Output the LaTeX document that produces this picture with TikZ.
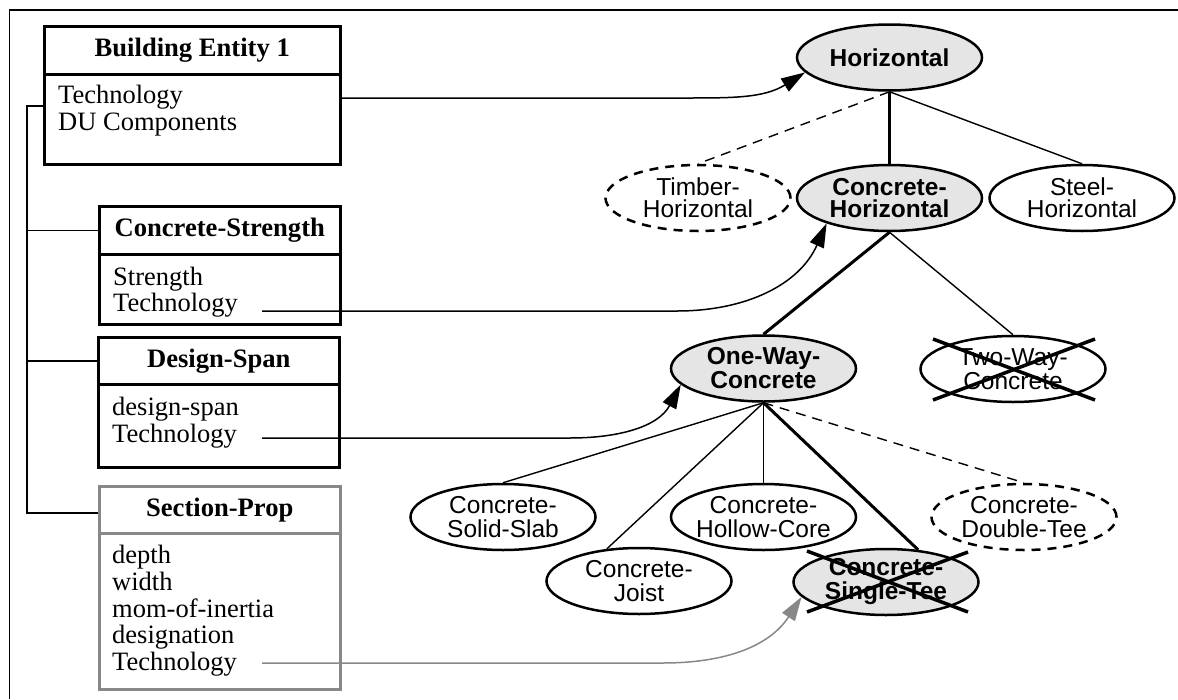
\documentclass[tikz,border=0pt]{standalone}
\usepackage{fontspec}
\setmainfont{Liberation Serif}
\newfontfamily\sansf{Liberation Sans}
\usetikzlibrary{shapes.geometric,arrows.meta,calc}
\definecolor{nodefill}{HTML}{E5E5E5}
\definecolor{boxgray}{HTML}{888888}
\begin{document}
\begin{tikzpicture}[x=1pt,y=-1pt,
  ellbase/.style={ellipse, draw, line width=2.5pt, minimum width=185pt, minimum height=66pt,
    inner sep=-14pt, align=center},
  ellA/.style={ellbase, font=\sansf\fontsize{24.5}{22}\selectfont},
  ellB/.style={ellbase, font=\sansf\fontsize{24.5}{24}\selectfont},
  filled/.style={fill=nodefill, font=\sansf\bfseries\fontsize{24.5}{24}\selectfont},
  filledA/.style={fill=nodefill, font=\sansf\bfseries\fontsize{24.5}{22}\selectfont},
  dashedell/.style={dash pattern=on 9pt off 7pt},
  boxn/.style={draw, line width=2.5pt, inner sep=0pt, anchor=north west,
    font=\bfseries\fontsize{26.6}{27}\selectfont},
  txt/.style={anchor=base west, inner sep=0pt, font=\fontsize{26.5}{27}\selectfont},
  tree/.style={line width=1.5pt},
  edgethin/.style={line width=1.4pt},
  edgethick/.style={line width=3pt},
  edgedash/.style={line width=1.4pt, dash pattern=on 10pt off 7pt},
  crossline/.style={line width=3.5pt},
  conn/.style={line width=1.5pt, -{Triangle[length=24pt,width=15pt]}},
  conngray/.style={conn, draw=boxgray}
]
\useasboundingbox (0,0) rectangle (1178,699);
% frame
\draw[line width=1.5pt] (1178,10) -- (9.5,10) -- (9.5,699);

% boxes
\node[boxn, minimum width=296pt, minimum height=48pt] (BEh) at (43,25) {Building Entity 1};
\node[boxn, minimum width=296pt, minimum height=90pt] (BEb) at (43,73) {};
\node[txt] (be1) at (58,103) {Technology};
\node[txt] (be2) at (58,130) {DU Components};

\node[boxn, minimum width=241pt, minimum height=48pt] (CSh) at (98,205) {Concrete-Strength};
\node[boxn, minimum width=241pt, minimum height=70pt] (CSb) at (98,253) {};
\node[txt] (cs1) at (113,285) {Strength};
\node[txt] (cs2) at (113,311) {Technology};

\node[boxn, minimum width=241pt, minimum height=47pt] (DSh) at (97,336) {Design-Span};
\node[boxn, minimum width=241pt, minimum height=83pt] (DSb) at (97,383) {};
\node[txt] (ds1) at (112,415) {design-span};
\node[txt] (ds2) at (112,442) {Technology};

\node[boxn, draw=boxgray, minimum width=241pt, minimum height=47pt] (SPh) at (98,485) {Section-Prop};
\node[boxn, draw=boxgray, minimum width=241pt, minimum height=156pt] (SPb) at (98,532) {};
\node[txt] (sp1) at (112,563) {depth};
\node[txt] (sp2) at (112,590) {width};
\node[txt] (sp3) at (112,617) {mom-of-inertia};
\node[txt] (sp4) at (112,643) {designation};
\node[txt] (sp5) at (112,670) {Technology};

% left tree
\coordinate (trtop) at (27,106);
\coordinate (trbot) at (27,513);
\draw[tree] (trtop -| BEb.west) -- (trtop) -- (trbot) -- (trbot -| SPh.west);
\draw[tree] (CSh.west -| trtop) -- (CSh.west);
\draw[tree] (DSh.west -| trtop) -- (DSh.west);

% ellipses
\node[ellA, filledA] (H) at (889.5,57.5) {Horizontal};
\node[ellA, filledA] (CH) at (889.5,198) {Concrete-\\Horizontal};
\node[ellA] (SH) at (1082,198) {Steel-\\Horizontal};
\node[ellA, dashedell] (TH) at (698,198) {Timber-\\Horizontal};
\node[ellB, filled] (OW) at (763.5,368.5) {One-Way-\\Concrete};
\node[ellB] (TW) at (1013,369) {Two-Way-\\Concrete};
\node[ellB] (SS) at (503,517) {Concrete-\\Solid-Slab};
\node[ellB] (HC) at (763.5,517) {Concrete-\\Hollow-Core};
\node[ellB, dashedell] (DT) at (1024,517) {Concrete-\\Double-Tee};
\node[ellB] (CJ) at (639,581) {Concrete-\\Joist};
\node[ellB, filled] (ST) at (886,582) {Concrete-\\Single-Tee};

% hierarchy edges
\draw[edgethick] (H.south) -- (CH.north);
\draw[edgethin] (H.south) -- (SH.north);
\draw[edgedash] (H.south) -- (TH.north);
\draw[edgethick] (CH.south) -- (OW.north);
\draw[edgethin] (CH.south) -- (TW.north);
\draw[edgethin] (OW.south) -- (SS.north);
\draw[edgethin] (OW.south) -- (CJ.135);
\draw[edgethin] (OW.south) -- (HC.north);
\draw[edgethick] (OW.south) -- (ST.45);
\draw[edgedash] (OW.south) -- (DT.north);

% crosses
\draw[crossline] ($(TW.center)+(-80,-30)$) -- ($(TW.center)+(82,31)$);
\draw[crossline] ($(TW.center)+(-80,31)$) -- ($(TW.center)+(82,-30)$);
\draw[crossline] ($(ST.center)+(-79,-31)$) -- ($(ST.center)+(82,30)$);
\draw[crossline] ($(ST.center)+(-79,30)$) -- ($(ST.center)+(82,-30)$);

% slot connectors
\coordinate (c1) at (339,98);
\coordinate (c2) at (262,311);
\coordinate (c3) at (262,438);
\coordinate (c4) at (262,663);
\draw[conn] (c1) -- ++(344,0) to[out=0,in=212] (H.190);
\draw[conn] (c2) -- ++(415,0) to[out=0,in=246] (CH.202);
\draw[conn] (c3) -- ++(308,0) to[out=0,in=242] (OW.191);
\draw[conngray] (c4) -- ++(401,0) to[out=0,in=237] (ST.190);
\end{tikzpicture}
\end{document}
